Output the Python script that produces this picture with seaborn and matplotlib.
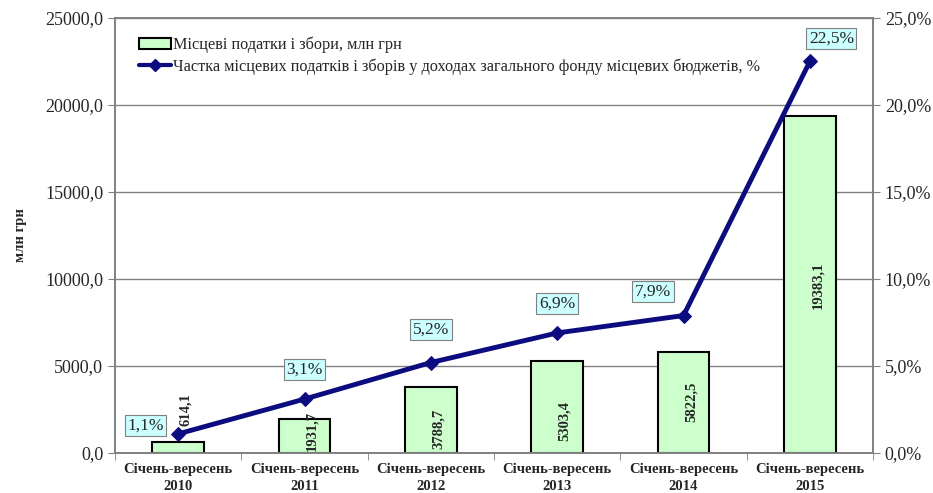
import numpy as np
import pandas as pd
import matplotlib
matplotlib.use("Agg")
import matplotlib.pyplot as plt
import seaborn as sns
from matplotlib.patches import Patch
from matplotlib.lines import Line2D

categories = ["Січень-вересень\n2010", "Січень-вересень\n2011", "Січень-вересень\n2012",
              "Січень-вересень\n2013", "Січень-вересень\n2014", "Січень-вересень\n2015"]
taxes = [614.1, 1931.7, 3788.7, 5303.4, 5822.5, 19383.1]
tax_labels = ["614,1", "1931,7", "3788,7", "5303,4", "5822,5", "19383,1"]
share = [1.1, 3.1, 5.2, 6.9, 7.9, 22.5]
share_labels = ["1,1%", "3,1%", "5,2%", "6,9%", "7,9%", "22,5%"]

bar_label_y = [2470, 1264, 1380, 1840, 2930, 9655]
share_label_pos = [(-0.26, 1.6), (0.0, 4.8), (0.0, 7.1), (0.0, 8.6), (-0.24, 9.3), (0.17, 23.8)]

sns.set_style("white")
plt.rcParams['font.family'] = ['Liberation Serif', 'DejaVu Serif']

fig = plt.figure(figsize=(9.33, 4.93), dpi=100)
ax = fig.add_axes([0.1233, 0.0811, 0.8124, 0.8824])

df = pd.DataFrame({"cat": categories, "val": taxes})
sns.barplot(data=df, x="cat", y="val", ax=ax, color="#ccffcc", width=0.41,
            edgecolor="black", linewidth=1.5, saturation=1)
ax.set_ylim(0, 25000)
ax.set_xlim(-0.5, 5.5)
ax.set_yticks(np.arange(0, 25001, 5000))
ax.set_yticklabels([f"{v:.1f}".replace(".", ",") for v in np.arange(0, 25001, 5000)], fontsize=13)
ax.yaxis.grid(True, color="#808080", linewidth=1)
ax.set_axisbelow(True)
ax.set_xlabel("")
ax.set_ylabel("млн грн", fontsize=10.5, fontweight="bold", labelpad=13)
ax.set_xticks(range(6))
ax.set_xticklabels(categories, fontsize=10.5, fontweight="bold", linespacing=1.4)
ax.tick_params(axis="x", length=0, pad=7)
ax.set_xticks(np.arange(-0.5, 6.0, 1.0), minor=True)
ax.tick_params(axis="x", which="minor", length=5, color="#808080", direction="out", bottom=True)
ax.tick_params(axis="y", length=5, color="#808080", direction="out", left=True)
for s in ax.spines.values():
    s.set_color("#808080")
    s.set_linewidth(1.2)

for i, (lbl, y) in enumerate(zip(tax_labels, bar_label_y)):
    ax.text(i + 0.06, y, lbl, rotation=90, ha="center", va="center",
            fontsize=10.5, fontweight="bold")

ax2 = ax.twinx()
sns.lineplot(x=np.arange(6), y=share, ax=ax2, color="#0c0c80", linewidth=3.5,
             marker="D", markersize=7, markeredgecolor="#0c0c80")
ax2.set_ylim(0, 25)
ax2.set_yticks(np.arange(0, 26, 5))
ax2.set_yticklabels([f"{v:.1f}%".replace(".", ",") for v in np.arange(0, 26, 5)], fontsize=13)
ax2.tick_params(axis="y", length=5, color="#808080", direction="out", right=True)
for s in ax2.spines.values():
    s.set_color("#808080")
    s.set_linewidth(1.2)

for i, (lbl, (dx, y)) in enumerate(zip(share_labels, share_label_pos)):
    ax2.text(i + dx, y, lbl, ha="center", va="center", fontsize=12.5,
             bbox=dict(boxstyle="square,pad=0.15", facecolor="#ccffff", edgecolor="#808080", linewidth=0.8))

handles = [Patch(facecolor="#ccffcc", edgecolor="black", linewidth=1.5),
           Line2D([0], [0], color="#0c0c80", linewidth=3, marker="D", markersize=6)]
labels = ["Місцеві податки і збори, млн грн",
          "Частка місцевих податків і зборів у доходах загального фонду місцевих бюджетів, %"]
ax2.legend(handles, labels, loc="upper left", bbox_to_anchor=(0.023, 0.972), frameon=False,
           fontsize=11.7, handlelength=2.0, handletextpad=0.1, labelspacing=0.3, borderaxespad=0)

fig.savefig("out.png", dpi=100)
